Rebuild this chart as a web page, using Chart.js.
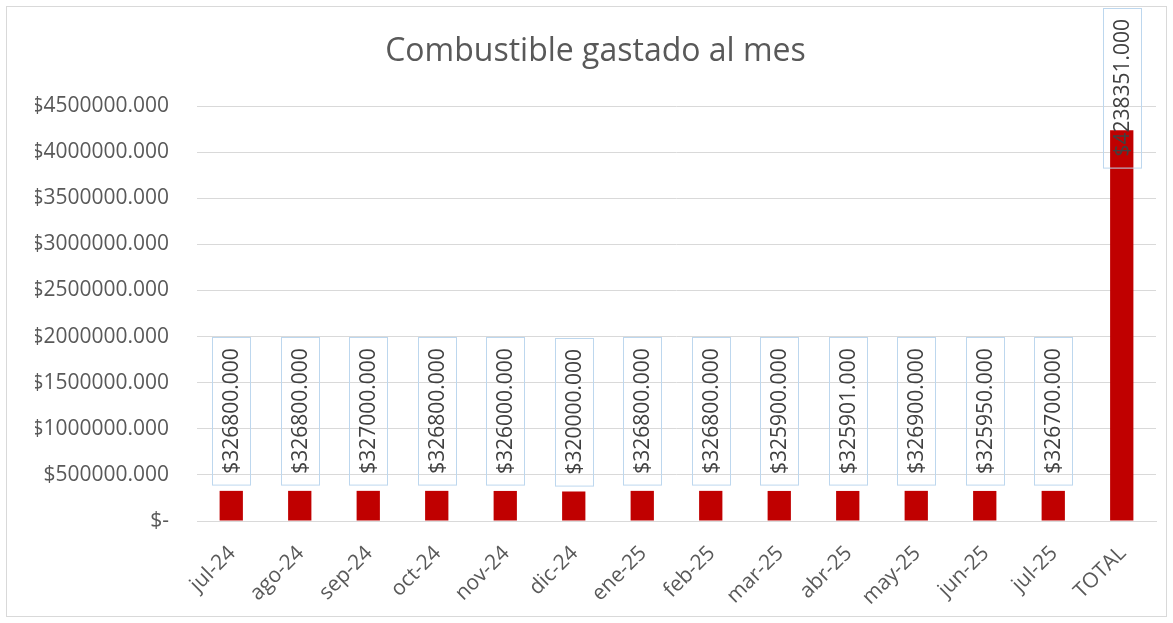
<!DOCTYPE html>
<html>
<head>
<meta charset="utf-8">
<script src="https://cdn.jsdelivr.net/npm/chart.js@4/dist/chart.umd.min.js"></script>
<style>
    html, body { margin: 0; padding: 0; background: #fff; }
    #wrap { position: relative; width: 1173px; height: 623px; }
</style>
</head>
<body>
<div id="wrap"><canvas id="chart" width="1173" height="623"></canvas></div>
<script>
// Datos del gráfico
const meses = ['jul-24', 'ago-24', 'sep-24', 'oct-24', 'nov-24', 'dic-24', 'ene-25',
    'feb-25', 'mar-25', 'abr-25', 'may-25', 'jun-25', 'jul-25', 'TOTAL'];
const gastos = [326800, 326800, 327000, 326800, 326000, 320000, 326800,
    326800, 325900, 325901, 326900, 325950, 326700, 4238351];
const yMax = 4500000;
const yStep = 500000;

const FONT = '"Open Sans", sans-serif';

const fmtMoney = v => v === 0 ? '$-' : '$' + Number(v).toFixed(3);

// Marco exterior del gráfico
const frame = {
    id: 'frame',
    beforeDraw: (chart) => {
        const ctx = chart.ctx;
        ctx.save();
        ctx.fillStyle = '#fff';
        ctx.fillRect(0, 0, chart.width, chart.height);
        ctx.strokeStyle = '#d9d9d9';
        ctx.lineWidth = 1;
        ctx.strokeRect(6.5, 6.5, chart.width - 13, chart.height - 13);
        ctx.restore();
    }
};

// Etiquetas de datos verticales con caja
const barLabels = {
    id: 'barLabels',
    afterDatasetsDraw: (chart) => {
        const ctx = chart.ctx;
        const meta = chart.getDatasetMeta(0);
        ctx.save();
        ctx.font = '21px ' + FONT;
        meta.data.forEach((bar, i) => {
            const text = fmtMoney(gastos[i]);
            const w = ctx.measureText(text).width;
            const boxH = w + 22;
            const boxW = 38;
            let bottom = bar.y - 6;
            let top = bottom - boxH;
            if (top < 8) { top = 8; bottom = top + boxH; }
            ctx.strokeStyle = '#bdd7ee';
            ctx.lineWidth = 1;
            ctx.strokeRect(Math.round(bar.x - boxW / 2) + 0.5, Math.round(top) + 0.5, boxW, boxH);
            ctx.save();
            ctx.translate(bar.x, (top + bottom) / 2);
            ctx.rotate(-Math.PI / 2);
            ctx.fillStyle = '#404040';
            ctx.textAlign = 'center';
            ctx.textBaseline = 'middle';
            ctx.fillText(text, 0, 1);
            ctx.restore();
        });
        ctx.restore();
    }
};

new Chart(document.getElementById('chart'), {
    type: 'bar',
    data: {
        labels: meses,
        datasets: [{
            data: gastos,
            backgroundColor: '#c00000',
            borderWidth: 0,
            categoryPercentage: 1,
            barPercentage: 0.34
        }]
    },
    plugins: [frame, barLabels],
    options: {
        responsive: false,
        animation: false,
        layout: { padding: { left: 35, right: 17, top: 0, bottom: 0 } },
        plugins: {
            legend: { display: false },
            tooltip: { enabled: false },
            title: {
                display: true,
                text: 'Combustible gastado al mes',
                color: '#595959',
                font: { family: FONT, size: 32, weight: 'normal', lineHeight: 1.2 },
                padding: { top: 33, bottom: 34.6 }
            }
        },
        scales: {
            x: {
                grid: { display: false, drawTicks: false },
                border: { display: true, color: '#d9d9d9', width: 1 },
                ticks: {
                    color: '#595959',
                    font: { family: FONT, size: 21 },
                    maxRotation: 45,
                    minRotation: 45,
                    padding: 20,
                    labelOffset: 1,
                    autoSkip: false
                },
                afterFit: (scale) => { scale.height = 102; }
            },
            y: {
                min: 0,
                max: yMax,
                grid: { color: '#d9d9d9', drawTicks: false },
                border: { display: false },
                ticks: {
                    stepSize: yStep,
                    color: '#595959',
                    font: { family: FONT, size: 21 },
                    padding: 28,
                    callback: (v) => fmtMoney(v)
                },
                afterFit: (scale) => { scale.width = 162; }
            }
        }
    }
});
</script>
</body>
</html>
